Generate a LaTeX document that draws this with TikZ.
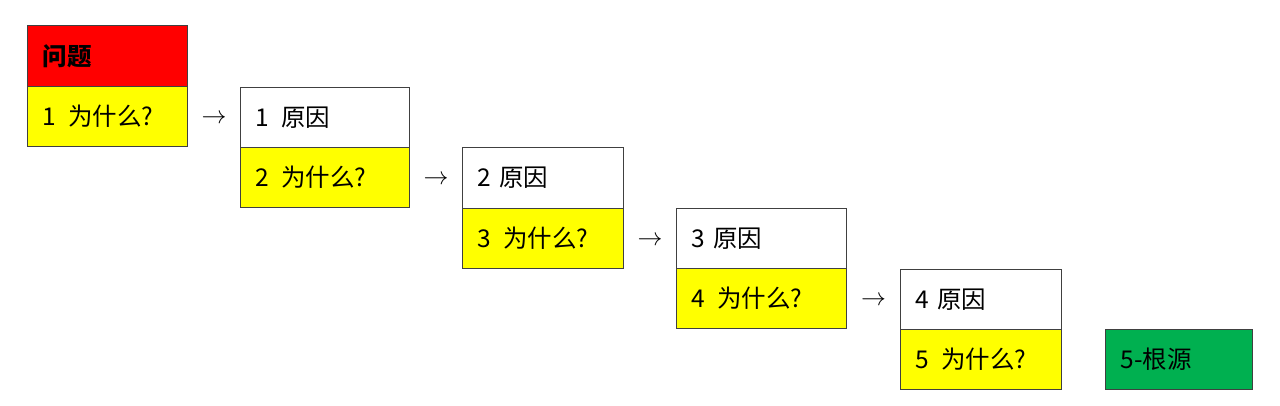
\documentclass[tikz,border=0pt]{standalone}
\usepackage{fontspec}
\setmainfont{Noto Sans CJK SC}
\usetikzlibrary{calc}
\definecolor{cred}{RGB}{255,0,0}
\definecolor{cyel}{RGB}{255,255,0}
\definecolor{cgrn}{RGB}{0,176,80}
\definecolor{cline}{RGB}{64,64,64}
\begin{document}
\begin{tikzpicture}[x=1pt,y=-1pt,
  cell/.style={draw=cline,line width=1.2pt,anchor=north west,inner xsep=15pt,inner ysep=0pt,
    align=left,font=\fontsize{24.5}{28}\selectfont},
  redc/.style={cell,fill=cred},
  yelc/.style={cell,fill=cyel},
  whtc/.style={cell,fill=white},
  grnc/.style={cell,fill=cgrn},
  arr/.style={font=\fontsize{24}{28}\selectfont,inner sep=0pt,yshift=-2pt}]
\useasboundingbox (0,0) rectangle (1280,406);
% box 1
\node[redc,text width=130pt,minimum height=61pt] (q) at (27,25) {\textbf{问题}};
\node[yelc,text width=130pt,minimum height=60pt] (w1) at (27,86) {1\enspace 为什么?};
% box 2
\node[whtc,text width=139pt,minimum height=60pt] (c1) at (240,87) {1\enspace 原因};
\node[yelc,text width=139pt,minimum height=60pt] (w2) at (240,147) {2\enspace 为什么?};
% box 3
\node[whtc,text width=131pt,minimum height=61pt] (c2) at (462,147) {2 原因};
\node[yelc,text width=131pt,minimum height=60pt] (w3) at (462,208) {3\enspace 为什么?};
% box 4
\node[whtc,text width=140pt,minimum height=60pt] (c3) at (676,208) {3 原因};
\node[yelc,text width=140pt,minimum height=60pt] (w4) at (676,268) {4\enspace 为什么?};
% box 5
\node[whtc,text width=131pt,minimum height=60pt] (c4) at (900,269) {4 原因};
\node[yelc,text width=131pt,minimum height=60pt] (w5) at (900,329) {5\enspace 为什么?};
% root
\node[grnc,text width=117pt,minimum height=60pt] (r) at (1105,329) {5-根源};
% arrows (text glyphs)
\node[arr] (a1) at ($(w1.east)!0.5!(c1.west)$) {$\rightarrow$};
\node[arr] (a2) at ($(w2.east)!0.5!(c2.west)$) {$\rightarrow$};
\node[arr] (a3) at ($(w3.east)!0.5!(c3.west)$) {$\rightarrow$};
\node[arr] (a4) at ($(w4.east)!0.5!(c4.west)$) {$\rightarrow$};
\end{tikzpicture}
\end{document}
